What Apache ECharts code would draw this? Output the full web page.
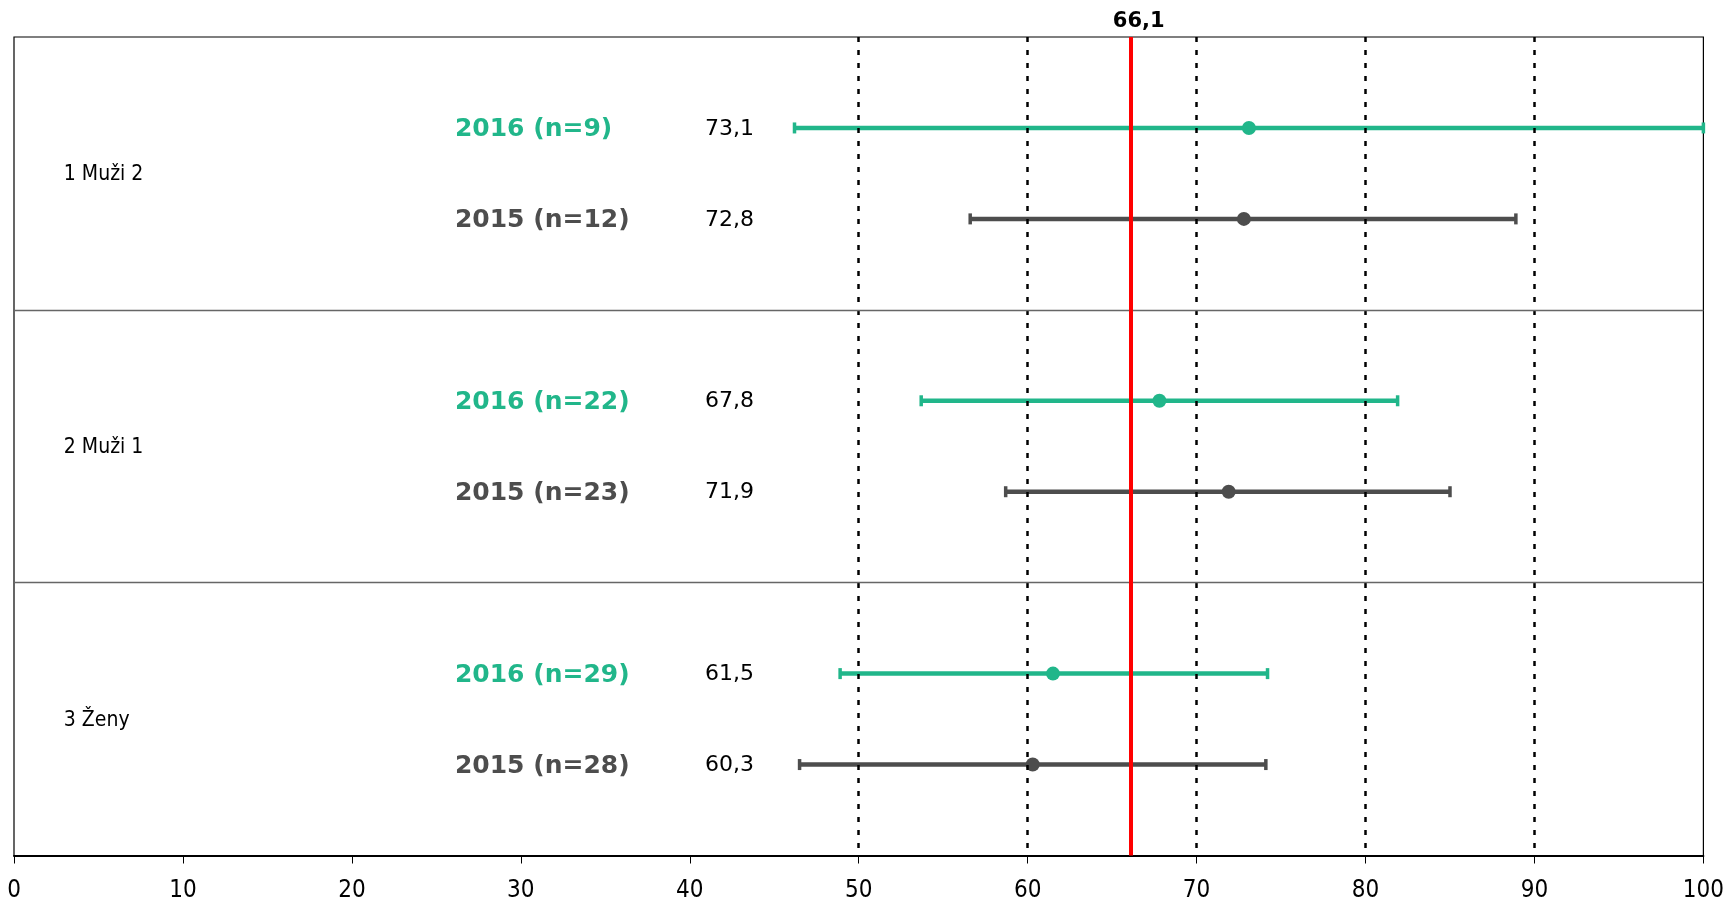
<!DOCTYPE html>
<html><head><meta charset="utf-8">
<script src="https://cdn.jsdelivr.net/npm/echarts@6/dist/echarts.min.js"></script>
<style>html,body{margin:0;padding:0;background:#fff}#c{width:1727px;height:904px}</style>
</head><body><div id="c"></div>
<script>
// ---- data ----
const groups = ['1 Muži 2', '2 Muži 1', '3 Ženy'];
const labels2016 = ['2016 (n=9)', '2016 (n=22)', '2016 (n=29)'];
const labels2015 = ['2015 (n=12)', '2015 (n=23)', '2015 (n=28)'];
const mean2016 = [73.1, 67.8, 61.5];
const low2016  = [46.2, 53.7, 48.9];
const high2016 = [100.0, 81.9, 74.2];
const mean2015 = [72.8, 71.9, 60.3];
const low2015  = [56.6, 58.7, 46.5];
const high2015 = [88.9, 85.0, 74.1];
const referenceValue = 66.1;
const dashedLines = [50, 60, 70, 80, 90];
const separators = [3, 6];

// ---- styling ----
const GREEN = '#21B68A';
const GRAY = '#4D4D4D';
const CONDENSED = "'DejaVu Sans Condensed', 'DejaVu Sans', sans-serif";
const SANS = "'DejaVu Sans', sans-serif";
const fmt = v => v.toFixed(1).replace('.', ',');

// build rows: [mean, low, high, yPos, group, yearIdx]
const rows = [];
groups.forEach((g, i) => {
  rows.push([mean2016[i], low2016[i], high2016[i], i * 3 + 1, i, 0]);
  rows.push([mean2015[i], low2015[i], high2015[i], i * 3 + 2, i, 1]);
});

const LABEL_X = 26.1;   // axis value where year labels begin
const VALUE_X = 43.8;   // axis value where mean labels end
const GROUP_X = 2.95;   // axis value where group labels begin

function renderItem(params, api) {
  const y = api.value(3);
  const gi = api.value(4);
  const yi = api.value(5);
  const color = yi === 0 ? GREEN : GRAY;
  const pm = api.coord([api.value(0), y]);
  const pl = api.coord([api.value(1), y]);
  const ph = api.coord([api.value(2), y]);
  const ps = { stroke: color, lineWidth: 4.5 };
  const capH = 5.5;
  const children = [
    { type: 'line', shape: { x1: pl[0], y1: pl[1], x2: ph[0], y2: ph[1] }, style: ps },
    { type: 'line', shape: { x1: pl[0], y1: pl[1] - capH, x2: pl[0], y2: pl[1] + capH }, style: { stroke: color, lineWidth: 3.5 } },
    { type: 'line', shape: { x1: ph[0], y1: ph[1] - capH, x2: ph[0], y2: ph[1] + capH }, style: { stroke: color, lineWidth: 3.5 } },
    { type: 'circle', shape: { cx: pm[0], cy: pm[1], r: 7 }, style: { fill: color } }
  ];
  const lp = api.coord([LABEL_X, y]);
  children.push({ type: 'text', x: lp[0], y: lp[1] + 2, style: {
    text: yi === 0 ? labels2016[gi] : labels2015[gi], fill: color,
    fontFamily: SANS, fontWeight: 'bold', fontSize: 25, align: 'left', verticalAlign: 'middle' } });
  const vp = api.coord([VALUE_X, y]);
  children.push({ type: 'text', x: vp[0], y: vp[1] + 1, style: {
    text: fmt(api.value(0)), fill: '#000',
    fontFamily: SANS, fontSize: 22, align: 'right', verticalAlign: 'middle' } });
  if (yi === 0) {
    const gp = api.coord([GROUP_X, gi * 3 + 1.5]);
    children.push({ type: 'text', x: gp[0], y: gp[1] + 1, style: {
      text: groups[gi], fill: '#000',
      fontFamily: CONDENSED, fontSize: 21, align: 'left', verticalAlign: 'middle' } });
  }
  return { type: 'group', children };
}

const chart = echarts.init(document.getElementById('c'), null, { renderer: 'canvas' });
chart.setOption({
  animation: false,
  backgroundColor: '#fff',
  grid: { left: 14, right: 23, top: 37, bottom: 48.5, show: true, borderColor: '#000', borderWidth: 1.2, backgroundColor: 'transparent' },
  xAxis: {
    type: 'value', min: 0, max: 100, interval: 10,
    axisLine: { show: true, onZero: false, lineStyle: { color: '#000', width: 2 } },
    axisTick: { show: true, length: 8, lineStyle: { color: '#000', width: 1 } },
    axisLabel: { fontFamily: CONDENSED, fontSize: 24, color: '#000', margin: 23 },
    splitLine: { show: false }
  },
  yAxis: {
    type: 'value', min: 0, max: 9, inverse: true,
    axisLine: { show: false }, axisTick: { show: false }, axisLabel: { show: false }, splitLine: { show: false }
  },
  series: [
    {
      type: 'line', data: [], silent: true, z: 1,
      markLine: {
        silent: true, symbol: 'none', animation: false,
        label: { show: false },
        lineStyle: { type: [5, 8], color: '#000', width: 2.5 },
        data: dashedLines.map(v => ({ xAxis: v }))
      }
    },
    {
      type: 'line', data: [], silent: true, z: 2,
      markLine: {
        silent: true, symbol: 'none', animation: false,
        label: { show: false },
        lineStyle: { type: 'solid', color: '#666', width: 1.3 },
        data: separators.map(v => ({ yAxis: v }))
      }
    },
    {
      type: 'custom', z: 3, silent: true,
      renderItem,
      encode: { x: [0, 1, 2], y: 3 },
      data: rows
    },
    {
      type: 'line', data: [], silent: true, z: 10,
      markLine: {
        silent: true, symbol: 'none', animation: false,
        lineStyle: { type: 'solid', color: '#FF0000', width: 4 },
        label: {
          show: true, position: 'start', formatter: fmt(referenceValue),
          fontFamily: SANS, fontWeight: 'bold', fontSize: 21, color: '#000',
          distance: 5, padding: [0, 0, 0, 16]
        },
        data: [{ xAxis: referenceValue }]
      }
    }
  ]
});
</script>
</body></html>
